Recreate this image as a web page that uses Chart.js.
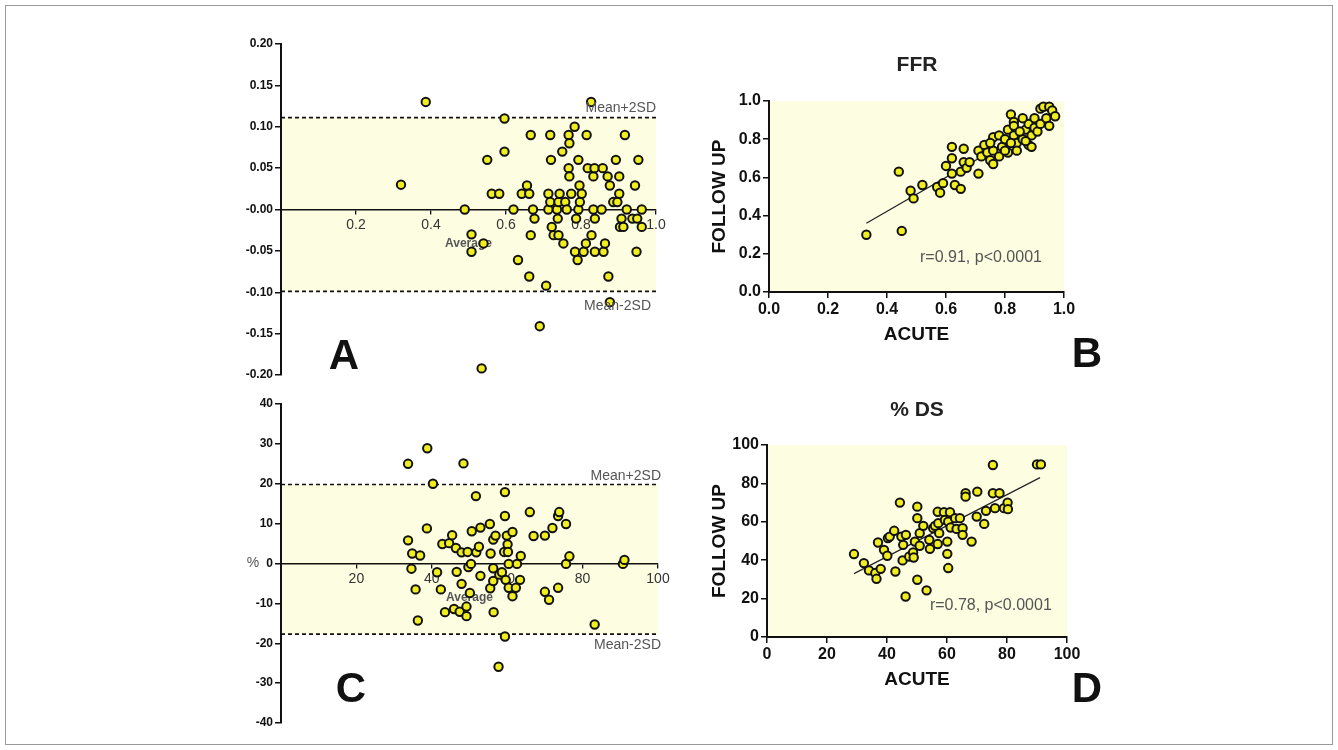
<!DOCTYPE html>
<html>
<head>
<meta charset="utf-8">
<script src="https://cdn.jsdelivr.net/npm/chart.js@4/dist/chart.umd.min.js"></script>
<style>
  html, body { margin: 0; padding: 0; background: #fff; }
  #page { position: relative; width: 1338px; height: 750px; overflow: hidden; }
  #frame { position: absolute; left: 5px; top: 5px; width: 1326px; height: 738px; border: 1px solid #9a9a9a; }
  canvas { position: absolute; }
</style>
</head>
<body>
<div id="page">
  <div id="frame"></div>
  <canvas id="chartA" width="520" height="380" style="left:180px;top:20px"></canvas>
  <canvas id="chartB" width="430" height="345" style="left:680px;top:40px"></canvas>
  <canvas id="chartC" width="520" height="365" style="left:180px;top:380px"></canvas>
  <canvas id="chartD" width="430" height="340" style="left:680px;top:385px"></canvas>
</div>
<script>
// ---- FFR: Bland-Altman (average vs difference)
const ffrAvg = [0.386,0.32,0.49,0.508,0.508,0.54,0.55,0.562,0.582,0.596,0.596,0.62,0.632,0.642,0.656,0.662,0.666,0.666,0.662,0.672,
  0.676,0.69,0.707,0.713,0.713,0.718,0.72,0.718,0.722,0.727,0.736,0.74,0.743,0.738,0.74,0.75,0.753,0.758,0.767,0.769,
  0.767,0.769,0.762,0.774,0.783,0.784,0.791,0.793,0.793,0.796,0.797,0.802,0.807,0.813,0.815,0.818,0.827,0.828,0.833,0.836,
  0.833,0.837,0.837,0.855,0.858,0.86,0.864,0.871,0.873,0.877,0.877,0.886,0.893,0.897,0.902,0.902,0.904,0.908,0.913,0.917,
  0.922,0.937,0.944,0.948,0.953,0.962,0.962,0.95,0.535,0.787];
const ffrDiff = [0.13,0.03,0.0,-0.03,-0.051,-0.041,0.06,0.019,0.019,0.11,0.07,0.0,-0.061,0.019,0.029,0.019,0.09,-0.031,-0.081,0.0,
  -0.011,-0.141,-0.092,0.019,0.0,0.09,0.06,0.009,-0.021,-0.031,0.0,0.009,0.019,-0.011,-0.031,0.07,-0.041,0.009,0.09,0.08,
  0.05,0.04,0.0,0.019,0.10,-0.051,-0.061,0.06,0.0,0.029,0.009,0.019,-0.051,-0.041,0.09,0.05,0.13,-0.031,0.04,0.05,
  0.0,-0.011,-0.051,0.0,0.05,-0.051,-0.041,0.04,-0.081,0.029,-0.112,0.009,0.06,0.009,0.019,0.04,-0.021,-0.011,-0.021,0.09,
  0.0,-0.011,0.029,-0.051,0.06,0.0,-0.021,-0.011,-0.192,-0.011];
const ffrUpper = 0.111;
const ffrLower = -0.099;

// ---- FFR: acute vs follow up
const ffrAcute = [0.33,0.45,0.44,0.48,0.49,0.52,0.57,0.58,0.59,0.60,0.62,0.62,0.62,0.63,0.65,0.65,0.66,0.66,0.67,0.68,
  0.71,0.71,0.72,0.73,0.74,0.75,0.76,0.76,0.76,0.78,0.78,0.79,0.80,0.81,0.81,0.82,0.83,0.83,0.84,0.75,
  0.80,0.82,0.84,0.83,0.86,0.87,0.88,0.88,0.89,0.90,0.90,0.91,0.92,0.92,0.93,0.94,0.95,0.96,0.95,0.97,
  0.89,0.86,0.85,0.87];
const ffrFollow = [0.30,0.32,0.63,0.53,0.49,0.56,0.55,0.52,0.57,0.66,0.76,0.70,0.62,0.56,0.54,0.63,0.75,0.68,0.65,0.68,
  0.62,0.74,0.71,0.77,0.73,0.69,0.74,0.67,0.81,0.71,0.82,0.76,0.80,0.73,0.85,0.93,0.82,0.89,0.78,0.78,
  0.74,0.78,0.74,0.87,0.80,0.85,0.77,0.88,0.82,0.86,0.91,0.84,0.88,0.96,0.97,0.91,0.97,0.95,0.87,0.92,
  0.76,0.91,0.84,0.79];
const ffrFitX = [0.33, 0.97];
const ffrFitY = [0.36, 0.93];

// ---- %DS: Bland-Altman
const dsAvg = [33.7,38.8,48.4,40.3,59.4,51.7,33.7,34.8,36.9,34.6,35.7,36.3,38.7,41.4,42.4,42.8,43.5,44.6,45.4,45.9,
  46.4,46.6,47.4,47.9,47.9,49.2,49.2,49.5,49.7,50.4,50.1,50.6,51.8,52.5,52.9,52.9,55.4,55.6,55.5,56.3,
  56.3,56.3,56.4,56.9,57.7,57.9,58.6,59.2,59.4,59.4,59.6,59.9,60.1,60.2,60.4,60.4,61.4,61.4,62.3,62.6,
  63.4,63.6,66.0,67.0,70.0,70.0,71.1,72.0,73.5,73.8,73.5,75.6,75.6,76.5,83.2,90.7,91.1];
const dsDiff = [25.0,28.9,25.1,20.0,17.9,16.9,5.8,2.5,2.0,-1.3,-6.5,-14.3,8.8,-2.2,-6.5,4.9,-12.2,5.1,7.1,-11.4,
  3.9,-2.1,-12.1,2.8,-5.1,-10.8,-13.2,2.9,-0.9,-0.1,-7.4,8.1,2.8,4.2,9.0,-3.1,9.9,2.5,-6.2,6.0,
  -1.2,-4.4,-12.2,7.0,-25.9,-2.8,-2.2,2.9,11.9,-18.3,-4.1,7.0,4.8,2.9,-0.1,-6.1,7.9,-8.2,-6.1,-0.1,
  -4.1,1.9,12.9,6.9,7.0,-7.1,-9.1,8.9,11.9,12.9,-6.1,9.9,-0.1,1.8,-15.3,-0.1,0.9];
const dsUpper = 19.8;
const dsLower = -17.7;

// ---- %DS: acute vs follow up
const dsAcute = [29.0,32.3,34.0,36.1,36.5,37.9,37.0,39.0,40.1,40.3,40.9,42.4,42.8,44.3,44.8,45.2,45.4,46.2,46.3,47.4,
  48.7,48.9,49.3,50.1,50.1,50.1,50.9,50.9,52.1,53.2,54.1,54.3,55.4,56.0,56.9,57.1,56.9,57.4,59.0,59.3,
  60.1,60.1,60.4,60.4,61.0,61.2,62.7,63.2,64.3,65.2,65.2,66.2,66.2,68.2,69.9,70.1,72.4,73.0,75.3,75.3,
  76.0,77.5,79.0,80.2,80.3,90.0,91.3];
const dsFollow = [43.2,38.5,34.7,33.3,30.3,35.5,49.2,45.4,42.3,51.5,52.3,55.3,34.1,70.0,52.3,39.9,48.0,21.1,53.2,41.9,
  44.0,41.4,49.7,67.9,61.9,29.8,54.1,47.5,57.9,24.3,50.6,45.9,56.7,57.9,65.2,59.3,48.4,54.1,65.0,61.0,
  43.3,49.7,35.9,60.1,65.0,57.0,61.9,56.3,61.9,56.7,53.2,74.9,73.1,49.7,62.7,75.7,58.9,65.7,89.6,74.9,
  67.1,74.9,67.1,70.0,66.6,89.9,89.9];
const dsFitX = [29, 91];
const dsFitY = [33, 83];

const FONT = "'Liberation Sans', Arial, sans-serif";
const BAND = '#fdfde2';
const DOT = '#f1ee1f';

const zip = (xs, ys) => xs.map((v, i) => ({ x: v, y: ys[i] }));

// draws free text (titles, panel letters, SD labels) through the chart's scales
const textPlugin = {
  id: 'panelText',
  afterDraw(chart, args, opts) {
    const { ctx, scales } = chart;
    (opts.items || []).forEach(t => {
      ctx.save();
      ctx.font = t.font;
      ctx.fillStyle = t.color || '#000';
      ctx.textAlign = t.align || 'center';
      ctx.textBaseline = 'middle';
      let px = t.px !== undefined ? t.px : scales.x.getPixelForValue(t.x);
      let py = t.py !== undefined ? t.py : scales.y.getPixelForValue(t.y);
      ctx.fillText(t.text, px + (t.dx || 0), py + (t.dy || 0));
      ctx.restore();
    });
  }
};
Chart.register(textPlugin);

// pale yellow background: whole plot area, or only the band between two y values
const bgPlugin = {
  id: 'areaBg',
  beforeDraw(chart, args, opts) {
    if (!opts.color) return;
    const { ctx, chartArea: a, scales } = chart;
    let top = a.top, bottom = a.bottom;
    if (opts.from !== undefined) {
      top = scales.y.getPixelForValue(opts.from);
      bottom = scales.y.getPixelForValue(opts.to);
    }
    ctx.save();
    ctx.fillStyle = opts.color;
    ctx.fillRect(a.left, top, a.right - a.left, bottom - top);
    ctx.restore();
  }
};
Chart.register(bgPlugin);

function dots(data) {
  return {
    data: data,
    backgroundColor: DOT,
    borderColor: '#111',
    borderWidth: 2,
    pointRadius: 4.2
  };
}

function sdLine(x0, x1, v) {
  return {
    data: [{ x: x0, y: v }, { x: x1, y: v }],
    showLine: true,
    pointRadius: 0,
    borderColor: '#111',
    borderWidth: 1.6,
    borderDash: [4, 3]
  };
}

function blandAltman(id, cfg) {
  return new Chart(document.getElementById(id), {
    type: 'scatter',
    data: {
      datasets: [
        dots(zip(cfg.xs, cfg.ys)),
        sdLine(cfg.xMin, cfg.xMax, cfg.upper),
        sdLine(cfg.xMin, cfg.xMax, cfg.lower)
      ]
    },
    options: {
      responsive: false,
      animation: false,
      layout: { padding: cfg.padding },
      plugins: {
        legend: { display: false },
        tooltip: { enabled: false },
        areaBg: { color: BAND, from: cfg.upper, to: cfg.lower },
        panelText: { items: cfg.texts }
      },
      scales: {
        x: {
          type: 'linear',
          position: { y: 0 },
          min: cfg.xMin, max: cfg.xMax,
          ticks: {
            stepSize: cfg.xStep,
            font: { family: FONT, size: 14 },
            color: '#333',
            padding: 3,
            maxRotation: 0,
            callback: cfg.xLabel
          },
          grid: { drawOnChartArea: false, drawTicks: true, tickLength: 4, color: '#111', lineWidth: 1.3 },
          border: { display: true, color: '#111', width: 1.6 },
          title: {
            display: true, text: 'Average',
            font: { family: FONT, size: 12, weight: 'bold' },
            color: '#555', padding: { top: 0, bottom: 0 }
          }
        },
        y: {
          type: 'linear',
          min: cfg.yMin, max: cfg.yMax,
          afterFit(s) { s.width = cfg.yWidth; },
          ticks: {
            stepSize: cfg.yStep,
            font: { family: FONT, size: 12, weight: 'bold' },
            color: '#111',
            padding: 2,
            callback: cfg.yLabel
          },
          grid: { drawOnChartArea: false, drawTicks: true, tickLength: 6, color: '#111', lineWidth: 1.5 },
          border: { display: true, color: '#111', width: 2 }
        }
      }
    }
  });
}

function correlation(id, cfg) {
  const tickFont = { family: FONT, size: 16, weight: 'bold' };
  const titleFont = { family: FONT, size: 19, weight: 'bold' };
  return new Chart(document.getElementById(id), {
    type: 'scatter',
    data: {
      datasets: [
        dots(zip(cfg.xs, cfg.ys)),
        {
          data: zip(cfg.fitX, cfg.fitY),
          showLine: true,
          pointRadius: 0,
          borderColor: '#222',
          borderWidth: 1.2
        }
      ]
    },
    options: {
      responsive: false,
      animation: false,
      layout: { padding: cfg.padding },
      plugins: {
        legend: { display: false },
        tooltip: { enabled: false },
        areaBg: { color: BAND },
        panelText: { items: cfg.texts }
      },
      scales: {
        x: {
          type: 'linear',
          min: cfg.min, max: cfg.max,
          afterFit(s) { s.height = 60; },
          ticks: { stepSize: cfg.step, font: tickFont, color: '#111', padding: 2, maxRotation: 0, callback: cfg.label },
          grid: { drawOnChartArea: false, drawTicks: true, tickLength: 6, color: '#111', lineWidth: 1.5 },
          border: { display: true, color: '#111', width: 2 },
          title: { display: true, text: 'ACUTE', font: titleFont, color: '#111', padding: { top: 0, bottom: 6 } }
        },
        y: {
          type: 'linear',
          min: cfg.min, max: cfg.max,
          afterFit(s) { s.width = cfg.yWidth; },
          ticks: { stepSize: cfg.step, font: tickFont, color: '#111', padding: 2, callback: cfg.label },
          grid: { drawOnChartArea: false, drawTicks: true, tickLength: 6, color: '#111', lineWidth: 1.5 },
          border: { display: true, color: '#111', width: 2 },
          title: { display: true, text: 'FOLLOW UP', font: titleFont, color: '#111', padding: { top: 28, bottom: 0 } }
        }
      }
    }
  });
}

const sdFont = '14px ' + FONT;
const letterFont = 'bold 42px ' + FONT;
const rFont = '16px ' + FONT;

blandAltman('chartA', {
  xs: ffrAvg, ys: ffrDiff, upper: ffrUpper, lower: ffrLower,
  xMin: 0, xMax: 1, xStep: 0.2, yMin: -0.2, yMax: 0.2, yStep: 0.05, yWidth: 101,
  padding: { left: 0, right: 44, top: 24, bottom: 25 },
  xLabel: v => (v === 0 ? '' : v.toFixed(1)),
  yLabel: v => (Math.abs(v) < 1e-9 ? '-0.00' : v.toFixed(2)),
  texts: [
    { text: 'Mean+2SD', x: 1, y: ffrUpper, dy: -10, align: 'right', font: sdFont, color: '#555' },
    { text: 'Mean-2SD', x: 1, y: ffrLower, dx: -5, dy: 15, align: 'right', font: sdFont, color: '#555' },
    { text: 'A', px: 164, py: 337, font: letterFont, color: '#111' }
  ]
});

blandAltman('chartC', {
  xs: dsAvg, ys: dsDiff, upper: dsUpper, lower: dsLower,
  xMin: 0, xMax: 100, xStep: 20, yMin: -40, yMax: 40, yStep: 10, yWidth: 101,
  padding: { left: 0, right: 42, top: 24, bottom: 22 },
  xLabel: v => (v === 0 ? '' : String(v)),
  yLabel: v => String(v),
  texts: [
    { text: 'Mean+2SD', x: 100, y: dsUpper, dx: 3, dy: -8, align: 'right', font: sdFont, color: '#555' },
    { text: 'Mean-2SD', x: 100, y: dsLower, dx: 3, dy: 11, align: 'right', font: sdFont, color: '#555' },
    { text: '%', px: 73, y: 0, font: sdFont, color: '#555' },
    { text: 'C', px: 171, py: 310, font: letterFont, color: '#111' }
  ]
});

correlation('chartB', {
  xs: ffrAcute, ys: ffrFollow, fitX: ffrFitX, fitY: ffrFitY,
  min: 0, max: 1, step: 0.2, yWidth: 89,
  padding: { left: 0, right: 46, top: 61, bottom: 33 },
  label: v => v.toFixed(1),
  texts: [
    { text: 'FFR', px: 237, py: 25, font: 'bold 21px ' + FONT, color: '#222' },
    { text: 'r=0.91, p<0.0001', x: 0.512, y: 0.178, align: 'left', font: rFont, color: '#555' },
    { text: 'B', px: 407, py: 315, font: letterFont, color: '#111' }
  ]
});

correlation('chartD', {
  xs: dsAcute, ys: dsFollow, fitX: dsFitX, fitY: dsFitY,
  min: 0, max: 100, step: 20, yWidth: 87,
  padding: { left: 0, right: 43, top: 60, bottom: 28 },
  label: v => String(v),
  texts: [
    { text: '% DS', px: 237, py: 25, font: 'bold 21px ' + FONT, color: '#222' },
    { text: 'r=0.78, p<0.0001', x: 54.3, y: 16.3, align: 'left', font: rFont, color: '#555' },
    { text: 'D', px: 407, py: 305, font: letterFont, color: '#111' }
  ]
});
</script>
</body>
</html>
